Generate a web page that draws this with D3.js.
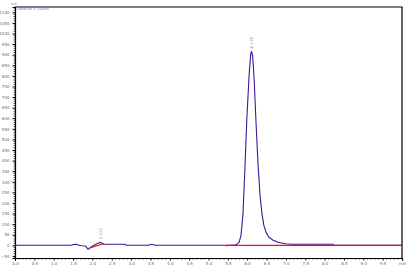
<!DOCTYPE html>
<html>
<head>
<meta charset="utf-8">
<script src="https://cdn.jsdelivr.net/npm/d3@7"></script>
<style>
  html, body { margin: 0; padding: 0; background: #fff; }
  #chart { width: 412px; height: 267px; }
  text { font-family: "DejaVu Sans", sans-serif; }
</style>
</head>
<body>
<div id="chart"></div>
<script>
// chromatogram trace (time in min, signal in mV)
const traceTime = [0, 1.45, 1.52, 1.56, 1.62, 1.66, 1.72, 1.82, 1.89, 1.95, 2.02, 2.08, 2.13, 2.19, 2.22, 2.27, 2.30,
  2.40, 2.70, 2.84, 2.88, 3.44, 3.50, 3.56, 3.62, 5.60, 5.71, 5.79, 5.84, 5.89, 5.94, 5.99, 6.05, 6.09, 6.11,
  6.14, 6.18, 6.23, 6.28, 6.33, 6.38, 6.43, 6.49, 6.56, 6.67, 6.80, 6.98, 7.16, 8.22, 8.24, 10];
const traceMv = [0, 0, 4, 5, 3, 0, -2, -3, -19, -10, -2, 4, 8, 13, 14, 7, 5,
  5, 5, 5, 0, 0, 4, 4, 0, 0, 2, 14, 47, 146, 358, 594, 807, 900, 915,
  896, 783, 571, 382, 240, 151, 94, 61, 38, 24, 14, 7, 5, 5, 0, 0];

// integration baselines (red)
const baseSmallTime = [1.92, 2.30];
const baseSmallMv = [-14, 9];
const baseMainTime = [5.46, 5.47, 10, 10];
const baseMainMv = [-5, 0, 0, 5];

// peak labels
const peakTimes = [2.22, 6.11];
const peakMv = [14, 915];
const peakLabels = ["2.222", "6.110"];

const xTicks = d3.range(0, 10.01, 0.5);
const yTicks = d3.range(-50, 1101, 50);

const W = 412, H = 267;
const margin = { top: 7, right: 10, bottom: 9, left: 15 };

const svg = d3.select("#chart").append("svg")
  .attr("width", W).attr("height", H);

const x = d3.scaleLinear().domain([0, 10]).range([margin.left, W - margin.right]);
const y = d3.scaleLinear().domain([-60, 1125]).range([H - margin.bottom, margin.top]);

// frame top and right
svg.append("path")
  .attr("d", `M${x(0)},${y(1125)}H${x(10)}V${y(-60)}`)
  .attr("fill", "none").attr("stroke", "#000").attr("stroke-width", 1.2);

// y axis
const yAxis = svg.append("g")
  .attr("transform", `translate(${x(0)},0)`)
  .call(d3.axisLeft(y).tickValues(yTicks).tickSize(2.5).tickPadding(3).tickFormat(d3.format("d")));
yAxis.select(".domain").attr("stroke", "#000").attr("stroke-width", 1.2);
yAxis.selectAll("text").style("font-size", "4px").attr("fill", "#666");
svg.append("g")
  .attr("transform", `translate(${x(0)},0)`)
  .selectAll("line").data(d3.range(-60, 1121, 10).filter(v => v % 50 !== 0)).enter()
  .append("line")
  .attr("x1", -1.3).attr("x2", 0)
  .attr("y1", d => y(d)).attr("y2", d => y(d))
  .attr("stroke", "#000").attr("stroke-width", 0.8);

// x axis
const xAxis = svg.append("g")
  .attr("transform", `translate(0,${y(-60)})`)
  .call(d3.axisBottom(x).tickValues(xTicks).tickSize(2.5).tickPadding(2)
    .tickFormat(d => d === 10 ? "min" : d3.format(".1f")(d)));
xAxis.select(".domain").attr("stroke", "#000").attr("stroke-width", 1.2);
xAxis.selectAll("text").style("font-size", "4px").attr("fill", "#666");
svg.append("g")
  .attr("transform", `translate(0,${y(-60)})`)
  .selectAll("line").data(d3.range(0, 100).map(i => i / 10).filter((v, i) => i % 5 !== 0)).enter()
  .append("line")
  .attr("y1", 0).attr("y2", 1.5)
  .attr("x1", d => x(d)).attr("x2", d => x(d))
  .attr("stroke", "#000").attr("stroke-width", 0.8);

// units and detector title
svg.append("text").attr("x", 11).attr("y", 4.5).text("mV")
  .style("font-size", "3.5px").attr("fill", "#777");
svg.append("text").attr("x", 17).attr("y", 9.5).text("Detector A 254nm")
  .style("font-size", "3.5px").attr("fill", "#8a6bc9");

const line = d3.line().x(d => x(d[0])).y(d => y(d[1]));

// trace
svg.append("path")
  .datum(d3.zip(traceTime, traceMv))
  .attr("d", line)
  .attr("fill", "none").attr("stroke", "#3f159a").attr("stroke-width", 1.1)
  .attr("stroke-linejoin", "round");

// baselines
[[baseSmallTime, baseSmallMv], [baseMainTime, baseMainMv]].forEach(([t, v]) => {
  svg.append("path")
    .datum(d3.zip(t, v))
    .attr("d", line)
    .attr("fill", "none").attr("stroke", "#f01010").attr("stroke-width", 1.2);
});

// peak labels (rotated)
peakTimes.forEach((t, i) => {
  svg.append("text")
    .attr("transform", `translate(${x(t) + 1.5},${y(peakMv[i]) - 3}) rotate(-90)`)
    .attr("text-anchor", "start")
    .style("font-size", "4px").attr("fill", "#888")
    .text(peakLabels[i]);
});
</script>
</body>
</html>
